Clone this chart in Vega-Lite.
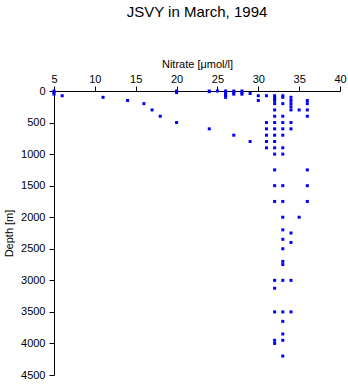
{
  "$schema": "https://vega.github.io/schema/vega-lite/v6.json",
  "width": 286,
  "height": 284,
  "autosize": {"type": "none"},
  "padding": {"left": 54, "top": 91, "right": 8, "bottom": 9},
  "background": "white",
  "title": {"text": "JSVY in March, 1994", "font": "Liberation Sans", "fontSize": 15, "fontWeight": "normal", "color": "black", "offset": 38, "anchor": "middle"},
  "data": {"values": [
    {"n": 5, "d": 0}, {"n": 5, "d": 25}, {"n": 5, "d": 50},
    {"n": 6, "d": 75}, {"n": 11, "d": 100}, {"n": 14, "d": 150}, {"n": 16, "d": 200}, {"n": 17, "d": 300}, {"n": 18, "d": 400},
    {"n": 20, "d": 0}, {"n": 20, "d": 25}, {"n": 20, "d": 500},
    {"n": 24, "d": 0}, {"n": 24, "d": 10}, {"n": 24, "d": 600},
    {"n": 25, "d": 0},
    {"n": 26, "d": 0}, {"n": 26, "d": 25}, {"n": 26, "d": 50}, {"n": 26, "d": 75}, {"n": 26, "d": 100},
    {"n": 27, "d": 0}, {"n": 27, "d": 25}, {"n": 27, "d": 50}, {"n": 27, "d": 700},
    {"n": 28, "d": 0}, {"n": 28, "d": 25}, {"n": 28, "d": 50},
    {"n": 29, "d": 40}, {"n": 29, "d": 800},
    {"n": 30, "d": 75}, {"n": 30, "d": 150},
    {"n": 31, "d": 75}, {"n": 31, "d": 500}, {"n": 31, "d": 600}, {"n": 31, "d": 700}, {"n": 31, "d": 800}, {"n": 31, "d": 900},
    {"n": 32, "d": 75}, {"n": 32, "d": 100}, {"n": 32, "d": 125}, {"n": 32, "d": 150}, {"n": 32, "d": 200}, {"n": 32, "d": 300}, {"n": 32, "d": 400}, {"n": 32, "d": 500}, {"n": 32, "d": 600}, {"n": 32, "d": 700}, {"n": 32, "d": 800}, {"n": 32, "d": 900}, {"n": 32, "d": 1000}, {"n": 32, "d": 1250}, {"n": 32, "d": 1500}, {"n": 32, "d": 1750}, {"n": 32, "d": 3000}, {"n": 32, "d": 3125}, {"n": 32, "d": 3500}, {"n": 32, "d": 3950}, {"n": 32, "d": 4000},
    {"n": 33, "d": 75}, {"n": 33, "d": 100}, {"n": 33, "d": 200}, {"n": 33, "d": 400}, {"n": 33, "d": 500}, {"n": 33, "d": 600}, {"n": 33, "d": 700}, {"n": 33, "d": 900}, {"n": 33, "d": 1000}, {"n": 33, "d": 1500}, {"n": 33, "d": 1750}, {"n": 33, "d": 2000}, {"n": 33, "d": 2200}, {"n": 33, "d": 2350}, {"n": 33, "d": 2500}, {"n": 33, "d": 2700}, {"n": 33, "d": 2750}, {"n": 33, "d": 3000}, {"n": 33, "d": 3500}, {"n": 33, "d": 3650}, {"n": 33, "d": 3850}, {"n": 33, "d": 3950}, {"n": 33, "d": 4200},
    {"n": 34, "d": 100}, {"n": 34, "d": 150}, {"n": 34, "d": 200}, {"n": 34, "d": 250}, {"n": 34, "d": 300}, {"n": 34, "d": 500}, {"n": 34, "d": 600}, {"n": 34, "d": 2250}, {"n": 34, "d": 2400}, {"n": 34, "d": 3000}, {"n": 34, "d": 3500},
    {"n": 35, "d": 300}, {"n": 35, "d": 2000},
    {"n": 36, "d": 150}, {"n": 36, "d": 200}, {"n": 36, "d": 300}, {"n": 36, "d": 400}, {"n": 36, "d": 1250}, {"n": 36, "d": 1500}, {"n": 36, "d": 1750}
  ]},
  "mark": {"type": "point", "shape": "square", "filled": true, "size": 9, "color": "#0000ff", "opacity": 1},
  "encoding": {
    "x": {"field": "n", "type": "quantitative", "title": "Nitrate [μmol/l]",
      "scale": {"domain": [5, 40], "nice": false, "zero": false},
      "axis": {"orient": "top", "values": [5, 10, 15, 20, 25, 30, 35, 40], "format": "d", "grid": false, "domainColor": "black", "tickColor": "black", "tickSize": 5, "labelFont": "Liberation Sans", "labelFontSize": 11, "labelColor": "black", "labelPadding": 2, "titleFont": "Liberation Sans", "titleFontSize": 11, "titleFontWeight": "normal", "titleColor": "black", "titlePadding": 4, "labelFlush": false}},
    "y": {"field": "d", "type": "quantitative", "title": "Depth [m]",
      "scale": {"domain": [0, 4500], "reverse": true, "nice": false},
      "axis": {"values": [0, 500, 1000, 1500, 2000, 2500, 3000, 3500, 4000, 4500], "format": "d", "grid": false, "domainColor": "black", "tickColor": "black", "tickSize": 5, "labelFont": "Liberation Sans", "labelFontSize": 11, "labelColor": "black", "labelPadding": 4, "titleFont": "Liberation Sans", "titleFontSize": 11, "titleFontWeight": "normal", "titleColor": "black", "titlePadding": 6, "labelFlush": false}}
  },
  "config": {"view": {"stroke": null}}
}
